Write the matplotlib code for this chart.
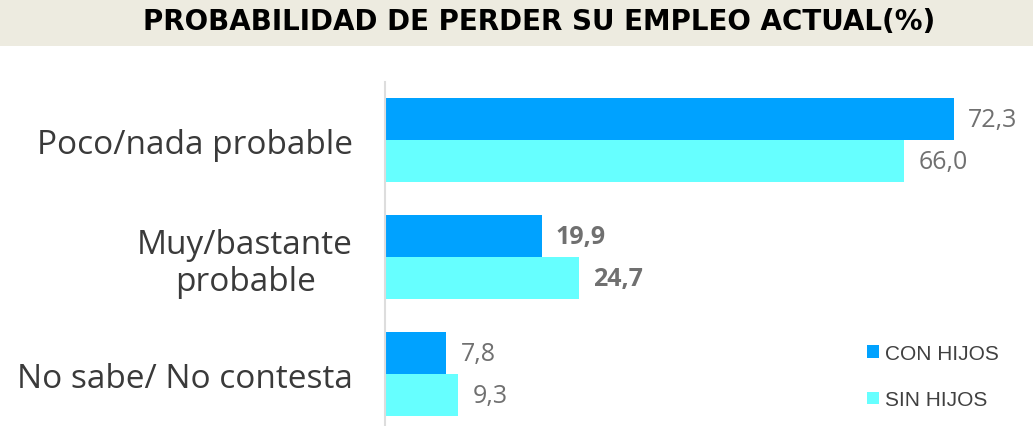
import numpy as np
import matplotlib.pyplot as plt
from matplotlib.patches import Rectangle

# datos
categorias = ["Poco/nada probable", "Muy/bastante\nprobable", "No sabe/ No contesta"]
con_hijos = [72.3, 19.9, 7.8]
sin_hijos = [66.0, 24.7, 9.3]
series = ["CON HIJOS", "SIN HIJOS"]
negrita = [False, True, False]

c_con = "#00A2FF"
c_sin = "#66FFFF"
gris = "#707070"

W, H = 1033, 427
fig = plt.figure(figsize=(W / 100, H / 100), dpi=100)
fig.patch.set_facecolor("white")

# banda del titulo
fig.patches.append(Rectangle((0, 1 - 47 / H), 1, 47 / H, transform=fig.transFigure,
                             facecolor="#EDEBE0", edgecolor="none", zorder=0))
fig.text(539 / W, 1 - 22 / H, "PROBABILIDAD DE PERDER SU EMPLEO ACTUAL(%)",
         ha="center", va="center", fontsize=20, fontweight="bold",
         family="DejaVu Sans", color="black")

ax = fig.add_axes([385 / W, 0, 645 / W, 1 - 83 / H])
ax.set_xlim(0, 82)
ax.set_ylim(2.444, -0.496)

y = np.arange(len(categorias))
h = 42 / 117
ax.barh(y - h / 2, con_hijos, height=h, color=c_con, label=series[0])
ax.barh(y + h / 2, sin_hijos, height=h, color=c_sin, label=series[1])

for i in range(len(categorias)):
    w = "bold" if negrita[i] else "normal"
    ax.text(con_hijos[i] + 1.8, y[i] - h / 2, f"{con_hijos[i]:.1f}".replace(".", ","),
            va="center", ha="left", fontsize=18, color=gris, fontweight=w, family="Open Sans")
    ax.text(sin_hijos[i] + 1.8, y[i] + h / 2, f"{sin_hijos[i]:.1f}".replace(".", ","),
            va="center", ha="left", fontsize=18, color=gris, fontweight=w, family="Open Sans")

ax.set_yticks(y)
ax.set_yticklabels(categorias, fontsize=24, family="Open Sans", color="#3A3A3A",
                   ha="right", multialignment="center", linespacing=1.15)
ax.tick_params(axis="y", length=0, pad=23)
ax.set_xticks([])
for s in ["top", "right", "bottom"]:
    ax.spines[s].set_visible(False)
ax.spines["left"].set_color("#DDDDDD")
ax.spines["left"].set_linewidth(1.5)

ax.legend(loc="lower right", bbox_to_anchor=(1.0, -0.042), frameon=False,
          prop={"family": "Liberation Sans", "size": 15}, labelcolor="#404040",
          handlelength=0.55, handleheight=0.55, handletextpad=0.3, labelspacing=1.3,
          borderaxespad=1.1)

fig.savefig("out.png", dpi=100)
